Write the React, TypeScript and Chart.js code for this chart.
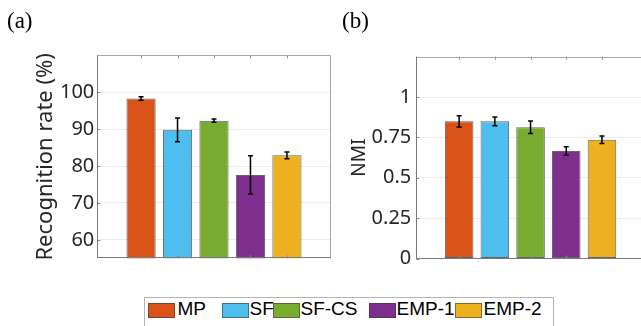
import React, { useEffect, useRef } from "react";
import { Chart, registerables } from "chart.js";

Chart.register(...registerables);

// ---- data ----
const CATEGORIES = ["MP", "SF", "SF-CS", "EMP-1", "EMP-2"];
const COLORS = ["#D95319", "#4DBEEE", "#77AC30", "#7E2F8E", "#EDB120"];
const RECOG_VALUES = [98.3, 89.8, 92.3, 77.6, 82.9];
const RECOG_ERRORS = [0.45, 3.2, 0.45, 5.2, 0.9];
const RECOG_TICKS = [60, 70, 80, 90, 100];
const NMI_VALUES = [0.85, 0.85, 0.813, 0.666, 0.736];
const NMI_ERRORS = [0.035, 0.027, 0.039, 0.026, 0.023];
const NMI_TICKS = [0, 0.25, 0.5, 0.75, 1];

const errorBarsPlugin = {
  id: "errorBars",
  afterDatasetsDraw(chart: any, _args: any, opts: any) {
    const errs: number[] = opts.errors || [];
    const meta = chart.getDatasetMeta(0);
    const ys = chart.scales.y;
    const ctx = chart.ctx;
    ctx.save();
    ctx.strokeStyle = "#000";
    ctx.lineWidth = 1.5;
    meta.data.forEach((bar: any, i: number) => {
      const raw = chart.data.datasets[0].data[i];
      const v = typeof raw === "object" ? raw.y : raw;
      const x = bar.x;
      const yt = ys.getPixelForValue(v + errs[i]);
      const yb = ys.getPixelForValue(v - errs[i]);
      ctx.beginPath();
      ctx.moveTo(x, yt);
      ctx.lineTo(x, yb);
      ctx.moveTo(x - 2.5, yt);
      ctx.lineTo(x + 2.5, yt);
      ctx.moveTo(x - 2.5, yb);
      ctx.lineTo(x + 2.5, yb);
      ctx.stroke();
    });
    ctx.restore();
  },
};

const boxPlugin = {
  id: "matlabBox",
  afterDraw(chart: any, _args: any, opts: any) {
    const { left, right, top, bottom } = chart.chartArea;
    const ctx = chart.ctx;
    const ys = chart.scales.y;
    const xs = chart.scales.x;
    ctx.save();
    ctx.lineWidth = 1;
    ctx.strokeStyle = "#8a8a8a";
    ctx.beginPath();
    (opts.yTicks || []).forEach((t: number) => {
      const y = Math.round(ys.getPixelForValue(t)) + 0.5;
      ctx.moveTo(left, y);
      ctx.lineTo(left + 3, y);
    });
    (opts.xTicks || []).forEach((t: number) => {
      const x = Math.round(xs.getPixelForValue(t)) + 0.5;
      ctx.moveTo(x, top);
      ctx.lineTo(x, top + 3);
      ctx.moveTo(x, bottom);
      ctx.lineTo(x, bottom - 3);
    });
    ctx.stroke();
    ctx.strokeStyle = "#a8a8a8";
    ctx.beginPath();
    ctx.moveTo(left, Math.round(top) + 0.5);
    ctx.lineTo(right, Math.round(top) + 0.5);
    ctx.moveTo(Math.round(right) - 0.5, top);
    ctx.lineTo(Math.round(right) - 0.5, bottom);
    ctx.stroke();
    ctx.strokeStyle = "#7a7a7a";
    ctx.beginPath();
    ctx.moveTo(Math.round(left) + 0.5, top);
    ctx.lineTo(Math.round(left) + 0.5, bottom);
    ctx.moveTo(left, Math.round(bottom) - 0.5);
    ctx.lineTo(right, Math.round(bottom) - 0.5);
    ctx.stroke();
    ctx.restore();
  },
};

type PanelProps = {
  values: number[];
  errors: number[];
  ticks: number[];
  min: number;
  max: number;
  title: string;
  titleSize: number;
  canvasLeft: number;
  canvasWidth: number;
  canvasHeight: number;
  pad: { left: number; right: number; top: number; bottom: number };
  scaleWidth: number;
  tickPad: number;
};

function BarPanel(p: PanelProps) {
  const ref = useRef<HTMLCanvasElement | null>(null);
  useEffect(() => {
    if (!ref.current) return;
    const positions = CATEGORIES.map((_, i) => i + 1);
    const chart = new Chart(ref.current, {
      type: "bar",
      data: {
        datasets: [
          {
            label: "values",
            data: p.values.map((v, i) => ({ x: positions[i], y: v })),
            backgroundColor: COLORS,
            borderColor: "rgba(50,50,50,0.75)",
            borderWidth: 1,
            borderSkipped: false,
            barPercentage: 1,
            categoryPercentage: 0.8,
          } as any,
        ],
      },
      options: {
        responsive: false,
        animation: false,
        layout: { padding: p.pad },
        plugins: {
          legend: { display: false },
          tooltip: { enabled: false },
          errorBars: { errors: p.errors },
          matlabBox: { yTicks: p.ticks, xTicks: positions },
        } as any,
        scales: {
          x: {
            type: "linear",
            min: -0.2,
            max: 6.2,
            offset: false,
            display: false,
          },
          y: {
            min: p.min,
            max: p.max,
            afterBuildTicks: (s: any) => {
              s.ticks = p.ticks.map((v) => ({ value: v }));
            },
            afterFit: (s: any) => {
              s.width = p.scaleWidth;
            },
            grid: { color: "#ebebeb", drawTicks: false, lineWidth: 1 },
            border: { display: false },
            ticks: {
              padding: p.tickPad,
              color: "#262626",
              font: { family: "Noto Sans", size: 20 },
              callback: (v: any) => String(v),
            },
            title: {
              display: true,
              text: p.title,
              color: "#262626",
              font: { family: "Noto Sans", size: p.titleSize },
            },
          },
        },
      },
      plugins: [errorBarsPlugin, boxPlugin],
    } as any);
    return () => chart.destroy();
  }, []);
  return (
    <canvas
      ref={ref}
      width={p.canvasWidth}
      height={p.canvasHeight}
      style={{ position: "absolute", left: p.canvasLeft, top: 0, width: p.canvasWidth, height: p.canvasHeight }}
    />
  );
}

const SWATCH_X = [148, 222, 273, 369, 455];
const LABEL_X = [177.5, 249.5, 300.5, 396.5, 483.5];

export default function App() {
  return (
    <div
      style={{
        position: "fixed",
        left: 0,
        top: 0,
        width: 641,
        height: 326,
        overflow: "hidden",
        background: "#fff",
      }}
    >
      <BarPanel
        values={RECOG_VALUES}
        errors={RECOG_ERRORS}
        ticks={RECOG_TICKS}
        min={55}
        max={110}
        title="Recognition rate (%)"
        titleSize={22}
        canvasLeft={0}
        canvasWidth={335}
        canvasHeight={280}
        pad={{ left: 28.3, right: 4.3, top: 55.3, bottom: 21.7 }}
        scaleWidth={69}
        tickPad={3}
      />
      <BarPanel
        values={NMI_VALUES}
        errors={NMI_ERRORS}
        ticks={NMI_TICKS}
        min={0}
        max={1.25}
        title="NMI"
        titleSize={19}
        canvasLeft={335}
        canvasWidth={320}
        canvasHeight={280}
        pad={{ left: 9.2, right: 10.2, top: 56.7, bottom: 21.5 }}
        scaleWidth={72.1}
        tickPad={5}
      />
      <div style={{ position: "absolute", left: 7, top: 9, font: "23px/23px 'Liberation Serif', serif", color: "#000" }}>
        (a)
      </div>
      <div style={{ position: "absolute", left: 342, top: 9, font: "23px/23px 'Liberation Serif', serif", color: "#000" }}>
        (b)
      </div>
      <div
        style={{
          position: "absolute",
          left: 144,
          top: 297,
          width: 410,
          height: 40,
          border: "1px solid #b4b4b4",
          boxSizing: "border-box",
        }}
      />
      {CATEGORIES.map((c, i) => (
        <React.Fragment key={c}>
          <div
            style={{
              position: "absolute",
              left: SWATCH_X[i],
              top: 303,
              width: 27,
              height: 15,
              background: COLORS[i],
              border: "1px solid rgba(60,60,60,0.6)",
              boxSizing: "border-box",
            }}
          />
          <div
            style={{
              position: "absolute",
              left: LABEL_X[i],
              top: 298.5,
              font: "19px/19px 'Liberation Sans', Arial, sans-serif",
              color: "#000",
              whiteSpace: "nowrap",
            }}
          >
            {c}
          </div>
        </React.Fragment>
      ))}
    </div>
  );
}
